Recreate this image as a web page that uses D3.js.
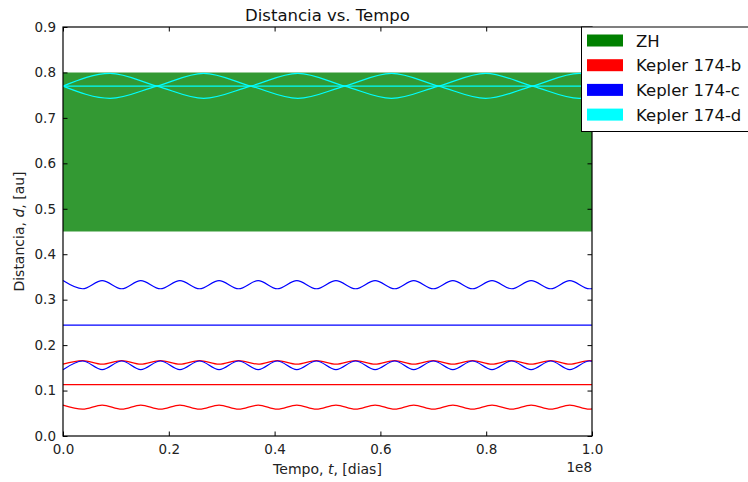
<!DOCTYPE html>
<html>
<head>
<meta charset="utf-8">
<script src="https://cdn.jsdelivr.net/npm/d3@7/dist/d3.min.js"></script>
<style>
  html, body { margin: 0; padding: 0; background: #fff; }
  svg { display: block; font-family: "DejaVu Sans", sans-serif; }
</style>
</head>
<body>
<svg id="chart" width="748" height="482"></svg>
<script>
// Time samples (millions of days) at the turning points of the secular b/c cycle
const tSecular = [0, 3.7, 7.4, 11.1, 14.7, 18.4, 22.1, 25.8, 29.5, 33.2, 36.9, 40.5, 44.2, 47.9,
  51.6, 55.3, 59.0, 62.7, 66.3, 70.0, 73.7, 77.4, 81.1, 84.8, 88.5, 92.2, 95.8, 99.5, 100];

// Kepler 174-b: periastron, semi-major axis, apoastron [au]
const bPeri = [0.068, 0.059, 0.068, 0.059, 0.068, 0.059, 0.068, 0.059, 0.068, 0.059, 0.068, 0.059, 0.068, 0.059,
  0.068, 0.059, 0.068, 0.059, 0.068, 0.059, 0.068, 0.059, 0.068, 0.059, 0.068, 0.059, 0.068, 0.059, 0.0595];
const bAxis = 0.113;
const bApo = [0.158, 0.166, 0.158, 0.166, 0.158, 0.166, 0.158, 0.166, 0.158, 0.166, 0.158, 0.166, 0.158, 0.166,
  0.158, 0.166, 0.158, 0.166, 0.158, 0.166, 0.158, 0.166, 0.158, 0.166, 0.158, 0.166, 0.158, 0.166, 0.1655];

// Kepler 174-c
const cPeri = [0.146, 0.165, 0.146, 0.165, 0.146, 0.165, 0.146, 0.165, 0.146, 0.165, 0.146, 0.165, 0.146, 0.165,
  0.146, 0.165, 0.146, 0.165, 0.146, 0.165, 0.146, 0.165, 0.146, 0.165, 0.146, 0.165, 0.146, 0.165, 0.1645];
const cAxis = 0.244;
const cApo = [0.342, 0.324, 0.342, 0.324, 0.342, 0.324, 0.342, 0.324, 0.342, 0.324, 0.342, 0.324, 0.342, 0.324,
  0.342, 0.324, 0.342, 0.324, 0.342, 0.324, 0.342, 0.324, 0.342, 0.324, 0.342, 0.324, 0.342, 0.324, 0.3245];

// Kepler 174-d (slower cycle, eccentricity passes through zero)
const tOuter = [0, 8.9, 17.75, 26.6, 35.5, 44.4, 53.25, 62.1, 71.0, 79.9, 88.75, 97.6, 100];
const dCurveA = [0.770, 0.798, 0.770, 0.743, 0.770, 0.798, 0.770, 0.743, 0.770, 0.798, 0.770, 0.743, 0.745];
const dAxis = 0.770;
const dCurveB = [0.770, 0.743, 0.770, 0.798, 0.770, 0.743, 0.770, 0.798, 0.770, 0.743, 0.770, 0.798, 0.796];

// Habitable zone limits [au] and time span [days]
const zhInner = 0.45, zhOuter = 0.80;
const tSpan = [0, 1e8];

const xTicks = [0, 0.2e8, 0.4e8, 0.6e8, 0.8e8, 1e8];
const yTicks = [0.0, 0.1, 0.2, 0.3, 0.4, 0.5, 0.6, 0.7, 0.8, 0.9];

const legendItems = [
  { label: "ZH", color: "#008000" },
  { label: "Kepler 174-b", color: "#ff0000" },
  { label: "Kepler 174-c", color: "#0000ff" },
  { label: "Kepler 174-d", color: "#00ffff" }
];

const svg = d3.select("#chart");
const m = { left: 63, top: 27, right: 156, bottom: 46 };
const W = 748 - m.left - m.right;   // 529
const H = 482 - m.top - m.bottom;   // 409

const x = d3.scaleLinear().domain(tSpan).range([0, W]);
const y = d3.scaleLinear().domain([0, 0.9]).range([H, 0]);

const g = svg.append("g").attr("transform", `translate(${m.left},${m.top})`);

// habitable zone band
g.append("path")
  .datum(tSpan)
  .attr("d", d3.area().x(d => x(d)).y0(y(zhInner)).y1(y(zhOuter)))
  .attr("fill", "#008000").attr("fill-opacity", 0.8);

const line = d3.line().x(d => x(d[0])).y(d => y(d[1])).curve(d3.curveMonotoneX);
const zipT = (ts, vs) => ts.map((t, i) => [t * 1e6, vs[i]]);
const flat = v => tSpan.map(t => [t, v]);

const series = [
  { pts: zipT(tSecular, bPeri), color: "#ff0000" },
  { pts: flat(bAxis), color: "#ff0000" },
  { pts: zipT(tSecular, bApo), color: "#ff0000" },
  { pts: zipT(tSecular, cPeri), color: "#0000ff" },
  { pts: flat(cAxis), color: "#0000ff" },
  { pts: zipT(tSecular, cApo), color: "#0000ff" },
  { pts: zipT(tOuter, dCurveA), color: "#00ffff" },
  { pts: flat(dAxis), color: "#00ffff" },
  { pts: zipT(tOuter, dCurveB), color: "#00ffff" }
];

g.selectAll("path.orbit").data(series).join("path")
  .attr("class", "orbit")
  .attr("d", d => line(d.pts))
  .attr("fill", "none")
  .attr("stroke", d => d.color)
  .attr("stroke-width", 1.2);

// axes: inward ticks on all four sides
const fmtX = d => (d / 1e8).toFixed(1);
const fmtY = d => d.toFixed(1);
const tickLen = 4.5;

const axB = g.append("g").attr("transform", `translate(0,${H})`)
  .call(d3.axisBottom(x).tickValues(xTicks).tickFormat(fmtX).tickSizeInner(-tickLen).tickSizeOuter(0).tickPadding(8));
const axT = g.append("g")
  .call(d3.axisTop(x).tickValues(xTicks).tickFormat("").tickSizeInner(-tickLen).tickSizeOuter(0));
const axL = g.append("g")
  .call(d3.axisLeft(y).tickValues(yTicks).tickFormat(fmtY).tickSizeInner(-tickLen).tickSizeOuter(0).tickPadding(7));
const axR = g.append("g").attr("transform", `translate(${W},0)`)
  .call(d3.axisRight(y).tickValues(yTicks).tickFormat("").tickSizeInner(-tickLen).tickSizeOuter(0));

[axB, axT, axL, axR].forEach(a => {
  a.select(".domain").remove();
  a.selectAll("line").attr("stroke", "#000").attr("stroke-width", 1);
  a.selectAll("text").attr("fill", "#222").style("font-size", "13.5px").style("font-family", "DejaVu Sans");
});

// frame
g.append("rect").attr("x", 0).attr("y", 0).attr("width", W).attr("height", H)
  .attr("fill", "none").attr("stroke", "#000").attr("stroke-width", 1.2);

// offset text for the x scale
g.append("text").attr("x", W).attr("y", H + 36).attr("text-anchor", "end")
  .style("font-size", "13.5px").attr("fill", "#222").text("1e8");

// title
svg.append("text").attr("x", m.left + W / 2).attr("y", 21).attr("text-anchor", "middle")
  .style("font-size", "16.5px").attr("fill", "#111").text("Distancia vs. Tempo");

// axis labels
const xl = svg.append("text").attr("x", m.left + W / 2).attr("y", 474).attr("text-anchor", "middle")
  .style("font-size", "14px").attr("fill", "#222");
xl.append("tspan").text("Tempo, ");
xl.append("tspan").style("font-style", "italic").text("t");
xl.append("tspan").text(", [dias]");

const yl = svg.append("text").attr("transform", `translate(24,${m.top + H / 2}) rotate(-90)`)
  .attr("text-anchor", "middle").style("font-size", "14px").attr("fill", "#222");
yl.append("tspan").text("Distancia, ");
yl.append("tspan").style("font-style", "italic").text("d");
yl.append("tspan").text(", [au]");

// legend
const lg = svg.append("g").attr("transform", "translate(581.5,27)");
lg.append("rect").attr("x", 0).attr("y", 0).attr("width", 200).attr("height", 104.5)
  .attr("fill", "#fff").attr("stroke", "#000").attr("stroke-width", 1);
const rows = lg.selectAll("g.item").data(legendItems).join("g")
  .attr("class", "item")
  .attr("transform", (d, i) => `translate(0,${13.5 + i * 24.7})`);
rows.append("rect").attr("x", 5.5).attr("y", -6).attr("width", 36).attr("height", 12)
  .attr("fill", d => d.color);
rows.append("text").attr("x", 54.5).attr("y", 6).style("font-size", "16.5px").attr("fill", "#111")
  .text(d => d.label);
</script>
</body>
</html>
